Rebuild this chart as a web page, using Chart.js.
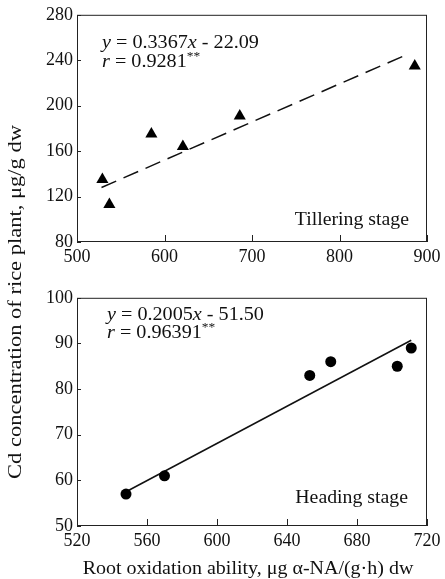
<!DOCTYPE html>
<html>
<head>
<meta charset="utf-8">
<script src="https://cdn.jsdelivr.net/npm/chart.js@4.4.1/dist/chart.umd.min.js"></script>
<style>
  body { margin: 0; background: #fff; }
  #wrap { position: relative; width: 445px; height: 579px; overflow: hidden; }
  canvas { position: absolute; left: 0; }
  #ytitle {
    position: absolute; left: -185px; top: 292px; width: 400px; height: 20px;
    line-height: 20px; text-align: center; white-space: nowrap;
    font: 18px "Liberation Serif"; color: #111;
    transform: rotate(-90deg) scaleX(1.25);
  }
</style>
</head>
<body>
<div id="wrap">
  <canvas id="tiller" width="445" height="270" style="top:0"></canvas>
  <canvas id="heading" width="445" height="296" style="top:283px"></canvas>
  <div id="ytitle">Cd concentration of rice plant, μg/g dw</div>
</div>
<script>
// tillering stage (triangles)
const tillerX = [529, 537, 585, 621, 686, 886];
const tillerY = [135, 113, 175, 164, 191, 235];
const tillerFitX = [528, 877];
const tillerFitY = [128, 245];

// heading stage (dots)
const headX = [548, 570, 653, 665, 703, 711];
const headY = [57, 61, 83, 86, 85, 89];
const headFitX = [548, 711];
const headFitY = [57.5, 90.7];

// axis ranges / tick steps
const tillerXTicks = [500, 900, 100];
const tillerYTicks = [80, 280, 40];
const headXTicks = [520, 720, 40];
const headYTicks = [50, 100, 10];

const xTitle = "Root oxidation ability, μg α-NA/(g·h) dw";
const serif = '"Liberation Serif", "Times New Roman", serif';
const ink = "#111";

const toPts = (xs, ys) => xs.map((x, i) => ({ x: x, y: ys[i] }));

// text in the scan is a bit wider than Times, so stretch it sideways
function drawRich(ctx, parts, x, y, sx, align) {
  ctx.save();
  ctx.textBaseline = "middle";
  ctx.textAlign = "left";
  ctx.fillStyle = ink;
  let w = 0;
  parts.forEach(p => {
    ctx.font = (p.it ? "italic " : "") + (p.sup ? 12 : 18) + "px " + serif;
    w += ctx.measureText(p.t).width;
  });
  ctx.translate(x, y);
  ctx.scale(sx, 1);
  let cx = align === "right" ? -w : align === "center" ? -w / 2 : 0;
  parts.forEach(p => {
    ctx.font = (p.it ? "italic " : "") + (p.sup ? 12 : 18) + "px " + serif;
    ctx.fillText(p.t, cx, p.sup ? -5 : 0);
    cx += ctx.measureText(p.t).width;
  });
  ctx.restore();
}

// box round the plot, short inward ticks, and the equation / stage notes
function makeDecor(notes) {
  return {
    id: "decor",
    afterDatasetsDraw(chart) {
      const { ctx, chartArea: a, scales } = chart;
      ctx.save();
      ctx.strokeStyle = "#222";
      ctx.lineWidth = 1;
      ctx.strokeRect(a.left + 0.5, a.top + 0.5, a.right - a.left - 1, a.bottom - a.top - 1);
      ctx.beginPath();
      scales.x.ticks.forEach(t => {
        const px = Math.round(scales.x.getPixelForValue(t.value)) + 0.5;
        ctx.moveTo(px, a.bottom);
        ctx.lineTo(px, a.bottom - 7);
      });
      scales.y.ticks.forEach(t => {
        const py = Math.round(scales.y.getPixelForValue(t.value)) + 0.5;
        ctx.moveTo(a.left, py);
        ctx.lineTo(a.left + 4, py);
      });
      ctx.stroke();
      ctx.restore();

      notes.forEach(n => drawRich(ctx, n.parts, n.x, n.y, n.sx, n.align));
    }
  };
}

function axis(range, extra) {
  return Object.assign({
    type: "linear",
    min: range[0],
    max: range[1],
    grid: { display: false, drawTicks: false },
    border: { display: false },
    ticks: { stepSize: range[2], autoSkip: false, maxRotation: 0, padding: 4, color: ink, font: { family: serif, size: 18 } }
  }, extra);
}

function makeChart(id, pts, fit, style, xr, yr, xHeight, notes) {
  new Chart(document.getElementById(id), {
    type: "scatter",
    data: {
      datasets: [
        {
          data: pts,
          pointStyle: style.shape,
          pointRadius: style.r,
          backgroundColor: "#000",
          borderColor: "#000",
          borderWidth: 0,
          showLine: false
        },
        {
          data: fit,
          showLine: true,
          pointRadius: 0,
          borderColor: "#111",
          borderWidth: 1.5,
          borderDash: style.dash
        }
      ]
    },
    options: {
      responsive: false,
      animation: false,
      devicePixelRatio: 1,
      layout: { padding: { top: 14, right: 18, left: 0, bottom: 0 } },
      plugins: { legend: { display: false }, tooltip: { enabled: false } },
      scales: {
        x: axis(xr, { afterFit: s => { s.height = xHeight; } }),
        y: axis(yr, { afterFit: s => { s.width = 77; } })
      }
    },
    plugins: [makeDecor(notes)]
  });
}

makeChart("tiller",
  toPts(tillerX, tillerY), toPts(tillerFitX, tillerFitY),
  { shape: "triangle", r: 7, dash: [16, 8] },
  tillerXTicks, tillerYTicks, 28,
  [
    { x: 102, y: 43, sx: 1.12, parts: [{ t: "y", it: true }, { t: " = 0.3367" }, { t: "x", it: true }, { t: " - 22.09" }] },
    { x: 102, y: 62, sx: 1.12, parts: [{ t: "r", it: true }, { t: " = 0.9281" }, { t: "**", sup: true }] },
    { x: 409, y: 220, sx: 1.1, align: "right", parts: [{ t: "Tillering stage" }] }
  ]);

makeChart("heading",
  toPts(headX, headY), toPts(headFitX, headFitY),
  { shape: "circle", r: 5.5, dash: [] },
  headXTicks, headYTicks, 53,
  [
    { x: 107, y: 32, sx: 1.12, parts: [{ t: "y", it: true }, { t: " = 0.2005" }, { t: "x", it: true }, { t: " - 51.50" }] },
    { x: 107, y: 50, sx: 1.12, parts: [{ t: "r", it: true }, { t: " = 0.96391" }, { t: "**", sup: true }] },
    { x: 408, y: 215, sx: 1.1, align: "right", parts: [{ t: "Heading stage" }] },
    { x: 248, y: 286, sx: 1.11, align: "center", parts: [{ t: xTitle }] }
  ]);
</script>
</body>
</html>
